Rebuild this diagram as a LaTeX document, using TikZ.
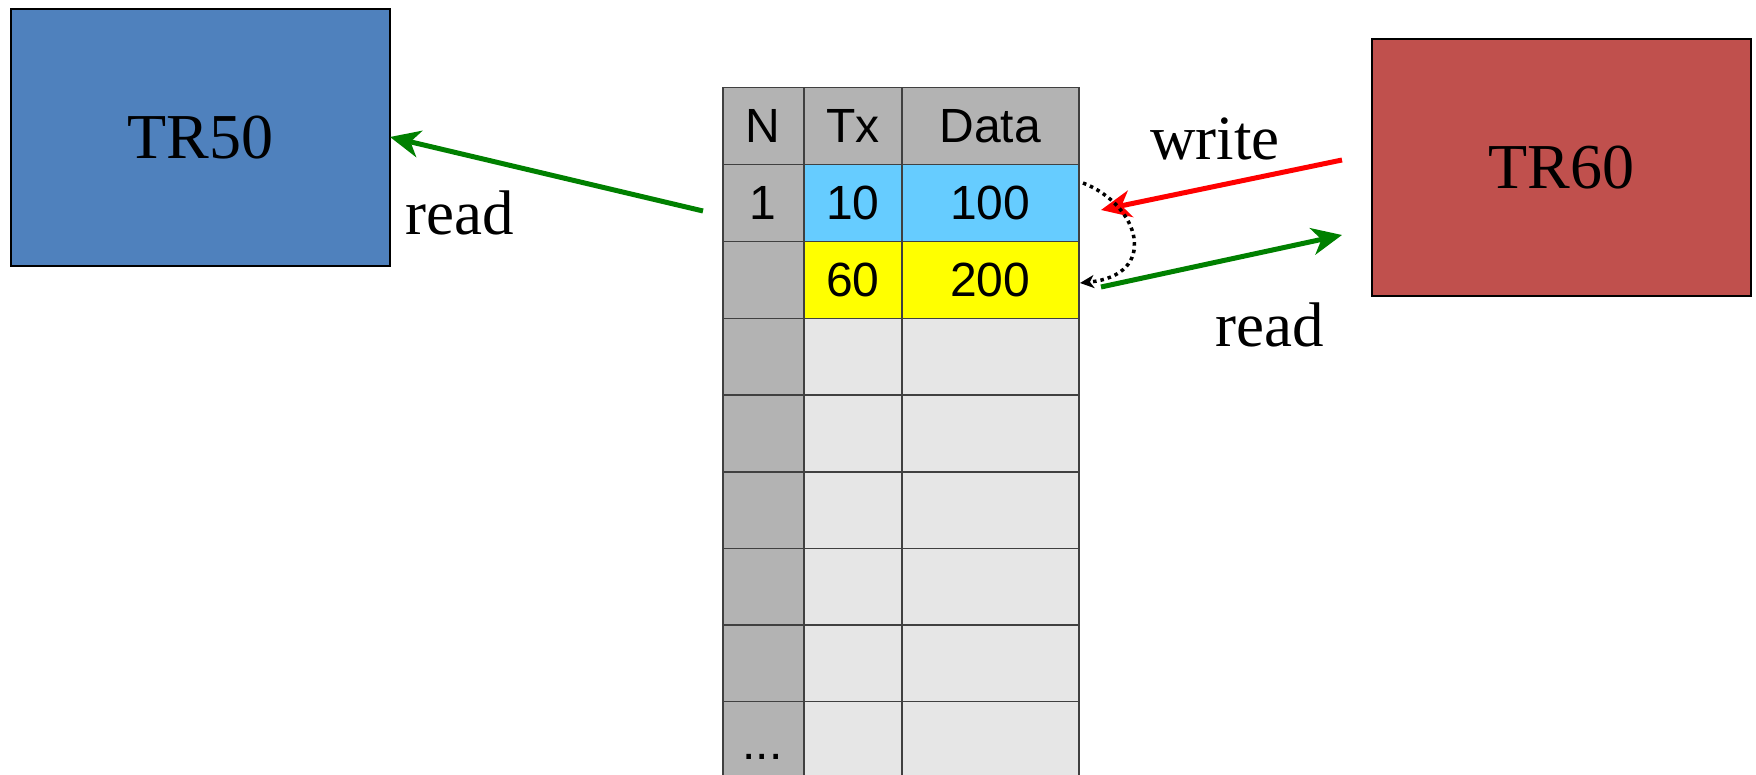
\documentclass[tikz,border=0pt]{standalone}
\usepackage{fontspec}
\setmainfont{Liberation Serif}
\setsansfont{Liberation Sans}
\usetikzlibrary{arrows.meta}
\definecolor{trblue}{HTML}{4F81BD}
\definecolor{trred}{HTML}{C0504D}
\definecolor{hdrgray}{HTML}{B3B3B3}
\definecolor{cellgray}{HTML}{E6E6E6}
\definecolor{cellblue}{HTML}{66CCFF}
\definecolor{cellyellow}{HTML}{FFFF00}
\definecolor{arrgreen}{HTML}{008000}
\definecolor{arrred}{HTML}{FF0000}
\definecolor{gridline}{HTML}{404040}
\begin{document}
\begin{tikzpicture}[x=1pt,y=-1pt,
  trbox/.style={draw=black, line width=2pt, minimum width=379pt, minimum height=257pt, inner sep=0pt,
    font=\fontsize{64}{70}\selectfont},
  cell/.style={draw=gridline, line width=1.5pt, anchor=north west, inner sep=0pt, minimum height=77pt,
    font=\sffamily\fontsize{48}{52}\selectfont},
  ncol/.style={cell, minimum width=81pt},
  txcol/.style={cell, minimum width=98pt},
  dcol/.style={cell, minimum width=177pt},
  lbl/.style={font=\fontsize{63}{70}\selectfont, inner sep=0pt, anchor=base},
  bigarrow/.style={line width=5pt, -{Stealth[length=30pt, width=27pt, inset=9pt]}},
]
\useasboundingbox (0,0) rectangle (1756,775);
\begin{scope}
\clip (0,0) rectangle (1756,775);
% boxes
\node[trbox, fill=trblue] (tr50) at (200.5,137.5) {TR50};
\node[trbox, fill=trred] (tr60) at (1561.5,168) {TR60};
% table header
\node[ncol, fill=hdrgray] (h1) at (722,87) {N};
\node[txcol, fill=hdrgray] (h2) at (803,87) {Tx};
\node[dcol, fill=hdrgray] (h3) at (901,87) {Data};
% row 1
\node[ncol, fill=hdrgray] (a1) at (722,164) {1};
\node[txcol, fill=cellblue] (a2) at (803,164) {10};
\node[dcol, fill=cellblue] (a3) at (901,164) {100};
% row 2
\node[ncol, fill=hdrgray] (b1) at (722,241) {};
\node[txcol, fill=cellyellow] (b2) at (803,241) {60};
\node[dcol, fill=cellyellow] (b3) at (901,241) {200};
% empty rows
\foreach \i/\y in {3/318,4/394.5,5/471,6/547.5,7/624}{
  \node[ncol, fill=hdrgray, minimum height=76.5pt] (r\i n) at (722,\y) {};
  \node[txcol, fill=cellgray, minimum height=76.5pt] (r\i t) at (803,\y) {};
  \node[dcol, fill=cellgray, minimum height=76.5pt] (r\i d) at (901,\y) {};
}
\node[ncol, fill=hdrgray, minimum height=90pt] (r8n) at (722,700.5) {};
\node[txcol, fill=cellgray, minimum height=90pt] (r8t) at (803,700.5) {};
\node[dcol, fill=cellgray, minimum height=90pt] (r8d) at (901,700.5) {};
\node[font=\sffamily\fontsize{48}{52}\selectfont, inner sep=0pt, anchor=base] (dots) at (762.5,759) {...};
\end{scope}
% labels
\node[lbl] (readl) at (460,235) {read};
\node[lbl] (writel) at (1215,160) {write};
\node[lbl] (readr) at (1270,347) {read};
% arrow endpoints
\coordinate (s50) at (703,211);
\coordinate (e50) at (390,137);
\coordinate (ws) at (1342,160);
\coordinate (we) at (1101,210);
\coordinate (rs) at (1101,287);
\coordinate (re) at (1342,235);
\coordinate (ds) at (1083,183);
\coordinate (de) at (1080,283);
% arrows
\draw[bigarrow, arrgreen] (s50) -- (e50);
\draw[bigarrow, arrred] (ws) -- (we);
\draw[bigarrow, arrgreen] (rs) -- (re);
\draw[line width=3.5pt, dash pattern=on 3.5pt off 4pt, -{Stealth[length=14pt, width=13pt, inset=4pt]}]
  (ds) .. controls (1140,205) and (1160,275) .. (de);
\end{tikzpicture}
\end{document}
